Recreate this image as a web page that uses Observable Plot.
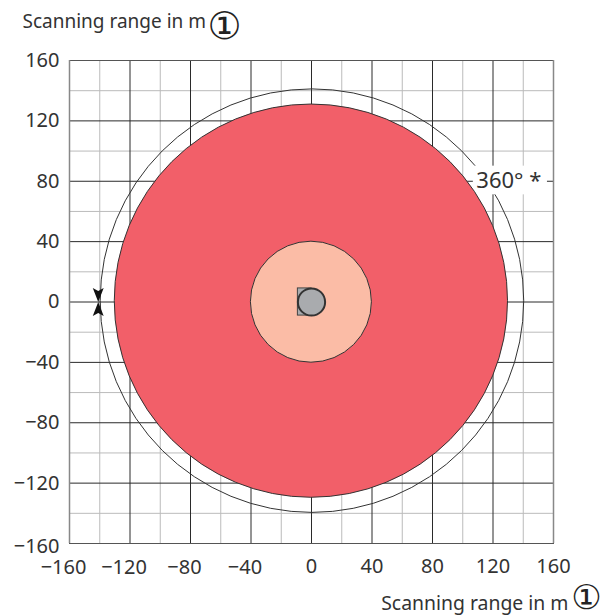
<!DOCTYPE html>
<html><head><meta charset="utf-8">
<script src="https://cdn.jsdelivr.net/npm/d3@7"></script>
<script src="https://cdn.jsdelivr.net/npm/@observablehq/plot@0.6"></script>
<style>html,body{margin:0;padding:0;background:#fff}svg{display:block}</style>
</head><body><div id="c"></div>
<script>
const negativeTicks = [-160,-120,-80,-40];
const positiveTicks = [0,40,80,120,160];
const majorTicks = [...negativeTicks, ...positiveTicks];
const minorTicks = [-140,-100,-60,-20,20,60,100,140];
const rangeRing = [140];
const scanDisc = [130];
const innerDisc = [40];
const sensorDisc = [9];
const axisTitle = "Scanning range in m";
const circled = "①";
const fam = "'Noto Sans', sans-serif";
const ink = "#333";

const arrow = dir => ({draw(ctx, size){
  const s = Math.sqrt(size) / 10;
  ctx.moveTo(0, 0);
  ctx.lineTo(5.5*s, dir*14*s);
  ctx.lineTo(0, dir*11*s);
  ctx.lineTo(-5.5*s, dir*14*s);
  ctx.closePath();
}});
const disc = (vals, fill, opts={}) => Plot.dot(vals, {x:0, y:0, r:d=>d, fill, stroke:"#333", strokeWidth:1, ...opts});
const fmt = d => (d < 0 ? "−" : "") + Math.abs(d);

const chart = Plot.plot({
  width:601, height:615,
  marginLeft:69, marginRight:48, marginTop:60, marginBottom:72,
  style:{fontFamily:fam, background:"#fff"},
  x:{domain:[-160,160], axis:null},
  y:{domain:[-160,160], axis:null},
  r:{type:"linear", domain:[0,160], range:[0,242]},
  marks:[
    Plot.ruleX(minorTicks,{stroke:"#bbb",strokeWidth:1}),
    Plot.ruleY(minorTicks,{stroke:"#bbb",strokeWidth:1}),
    Plot.ruleX(majorTicks,{stroke:"#2a2a2a",strokeWidth:1}),
    Plot.ruleY(majorTicks,{stroke:"#2a2a2a",strokeWidth:1}),
    Plot.frame({stroke:"#555",strokeWidth:1}),
    Plot.ruleX([-160,160],{stroke:"#888",strokeWidth:1.5}),
    disc(rangeRing,"none",{x:0.3,y:0.9}),
    Plot.rect([0],{x1:107,x2:156,y1:71,y2:90,fill:"#fff"}),
    disc(scanDisc,"#f25f69",{x:-0.4,y:0.9}),
    disc(innerDisc,"#fbbca6",{x:-0.4,y:0.2}),
    Plot.rect([0],{x1:-9,x2:0,y1:-9,y2:9,fill:"#a9abae",stroke:"#444",strokeWidth:1}),
    disc(sensorDisc,"#a9abae",{stroke:"#333",strokeWidth:2}),
    Plot.dot([0],{x:-141,y:0,r:5.6,fill:"#111",symbol:arrow(-1)}),
    Plot.dot([0],{x:-141,y:0,r:5.6,fill:"#111",symbol:arrow(1)}),
    Plot.text(["360° *"],{x:109,y:80,text:d=>d,textAnchor:"start",fontSize:22,fill:ink}),
    Plot.text(majorTicks.filter(d=>d!==-160),{x:-160,y:d=>d,dx:-10,text:fmt,textAnchor:"end",fontSize:20,fill:ink}),
    Plot.text([-160],{x:-160,y:d=>d,dx:-10,dy:3,text:fmt,textAnchor:"end",fontSize:20,fill:ink}),
    Plot.text(negativeTicks,{x:d=>d,y:-160,dx:-6,dy:24,text:fmt,fontSize:20,fill:ink}),
    Plot.text(positiveTicks,{x:d=>d,y:-160,dy:23,text:fmt,fontSize:20,fill:ink}),
    Plot.text([axisTitle],{frameAnchor:"top-left",dx:-47,dy:-46,text:d=>d,fontSize:19,fill:ink,textAnchor:"start"}),
    Plot.text([circled],{frameAnchor:"top-left",dx:155,dy:-48,text:d=>d,fontSize:38,fill:"#222",textAnchor:"middle",fontFamily:"DejaVu Sans"}),
    Plot.text([axisTitle],{frameAnchor:"bottom-right",dx:15,dy:66,text:d=>d,fontSize:19.4,fill:ink,textAnchor:"end"}),
    Plot.text([circled],{frameAnchor:"bottom-right",dx:33,dy:65,text:d=>d,fontSize:34,fill:"#222",textAnchor:"middle",fontFamily:"DejaVu Sans"})
  ]
});
document.getElementById("c").append(chart);
</script></body></html>
